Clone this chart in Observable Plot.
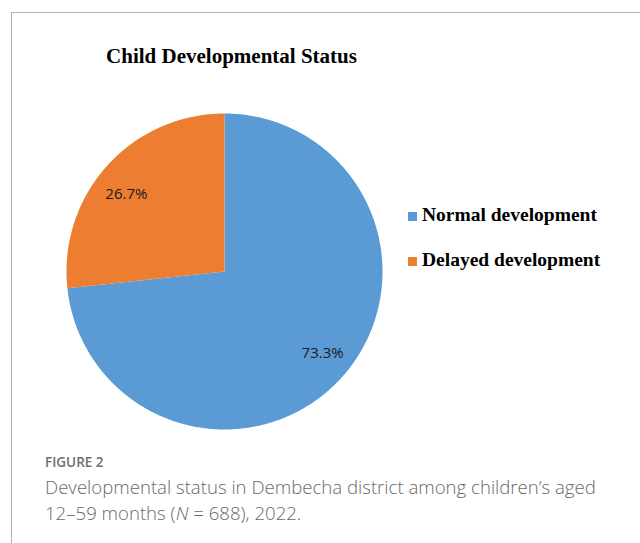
<!DOCTYPE html>
<html>
<head>
<meta charset="utf-8">
<script src="https://cdn.jsdelivr.net/npm/d3@7"></script>
<script src="https://cdn.jsdelivr.net/npm/@observablehq/plot@0.6"></script>
<style>
  html, body { margin: 0; padding: 0; background: #fff; }
  body { width: 640px; height: 543px; position: relative; overflow: hidden; }
  #frame { position: absolute; left: 11px; top: 12px; right: -5px; bottom: -5px;
           border-left: 1px solid #b3b3b3; border-top: 1px solid #b3b3b3; }
  #title { position: absolute; left: 0; width: 463px; top: 44px; text-align: center;
           font-family: "Liberation Serif", "DejaVu Serif", serif; font-weight: bold; font-size: 21px; color: #000; }
  #pie { position: absolute; left: 64px; top: 111px; }
  #legend { position: absolute; left: 408px; top: 203px;
            font-family: "Liberation Serif", serif; font-weight: bold; font-size: 19.5px; color: #000; }
  .item { position: relative; height: 45px; }
  .sw { position: absolute; left: 0; top: 9px; width: 9px; height: 9px; }
  .lab { position: absolute; left: 14px; top: 0; white-space: nowrap; line-height: 24px; }
  #fig { position: absolute; left: 45px; top: 453px; font-family: "Open Sans", sans-serif;
         font-weight: 600; font-size: 13.5px; color: #6e6e6e; }
  #cap { position: absolute; left: 45px; top: 474px; font-family: "Open Sans", sans-serif;
         font-weight: 300; font-size: 18.6px; line-height: 25.5px; color: #696969; white-space: nowrap; }
</style>
</head>
<body>
<div id="frame"></div>
<div id="title"></div>
<div id="pie"></div>
<div id="legend"></div>
<div id="fig"></div>
<div id="cap"></div>
<script>
const chartTitle = "Child Developmental Status";
const categories = ["Normal development", "Delayed development"];
const percents = [73.3, 26.7];
const colors = ["#5B9BD5", "#ED7D31"];
const figureLabel = "FIGURE 2";
const captionLines = [
  "Developmental status in Dembecha district among children\u2019s aged",
  "12\u201359 months (<i>N</i> = 688), 2022."
];

document.getElementById("title").textContent = chartTitle;
document.getElementById("fig").textContent = figureLabel;
document.getElementById("cap").innerHTML = captionLines.join("<br>");

// slice geometry derived from the values (start at 12 o'clock, clockwise)
const total = d3.sum(percents);
const slicePts = [];
const labels = [];
let acc = 0;
categories.forEach((cat, i) => {
  const a0 = acc / total * 2 * Math.PI;
  acc += percents[i];
  const a1 = acc / total * 2 * Math.PI;
  const n = Math.max(2, Math.ceil((a1 - a0) / (Math.PI / 360)));
  slicePts.push({cat, x: 0, y: 0});
  for (let k = 0; k <= n; k++) {
    const a = a0 + (a1 - a0) * k / n;
    slicePts.push({cat, x: Math.sin(a), y: Math.cos(a)});
  }
  slicePts.push({cat, x: 0, y: 0});
  const am = (a0 + a1) / 2 - 0.05;
  labels.push({x: 0.8 * Math.sin(am), y: 0.8 * Math.cos(am), text: percents[i].toFixed(1) + "%"});
});

const plot = Plot.plot({
  width: 320,
  height: 320,
  margin: 2,
  x: {domain: [-1, 1], axis: null},
  y: {domain: [-1, 1], axis: null},
  color: {domain: categories, range: colors},
  style: {background: "transparent", overflow: "visible"},
  marks: [
    Plot.line(slicePts, {x: "x", y: "y", z: "cat", fill: "cat", stroke: null, curve: "linear"}),
    Plot.text(labels, {x: "x", y: "y", text: "text", fill: "#1a1a1a", fontSize: 15,
      fontFamily: "Open Sans, sans-serif", dy: 2})
  ]
});
document.getElementById("pie").appendChild(plot);

const leg = document.getElementById("legend");
categories.forEach((cat, i) => {
  const it = document.createElement("div");
  it.className = "item";
  it.innerHTML = `<div class="sw" style="background:${colors[i]}"></div><div class="lab">${cat}</div>`;
  leg.appendChild(it);
});
</script>
</body>
</html>
